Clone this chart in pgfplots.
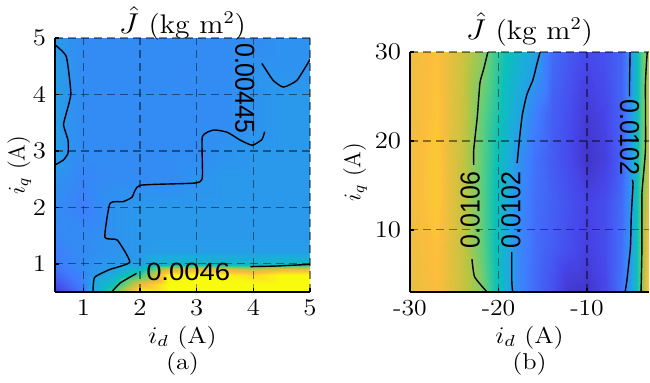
\documentclass[border=0pt]{standalone}
\usepackage{pgfplots}
\pgfplotsset{compat=1.18}
\usepackage{fontspec}
\newfontfamily\lblfont{Liberation Sans}
\tikzset{clbl/.style={font=\lblfont\fontsize{12.5}{13}\selectfont, inner sep=0pt, xscale=1.1}}
\pgfplotsset{
  colormap={parula}{rgb255(0pt)=(62,38,168) rgb255(7pt)=(71,70,234) rgb255(15pt)=(63,124,254) rgb255(19pt)=(44,149,238) rgb255(23pt)=(29,170,222) rgb255(31pt)=(10,192,185) rgb255(39pt)=(91,206,126) rgb255(47pt)=(185,197,66) rgb255(55pt)=(252,189,61) rgb255(63pt)=(249,251,14)},
  every axis title shift=0pt,
  mystyle/.style={
    scale only axis, enlargelimits=false, axis on top,
    axis x line*=bottom, axis y line*=left,
    axis line style={-, line width=1.3bp, black},
    grid=major,
    major grid style={black, opacity=0.45, line width=0.7bp, dash pattern=on 4bp off 2.5bp},
    tick align=inside, major tick length=2bp, tick style={black, line width=0.8bp},
    tick label style={xscale=1.12},
    xlabel style={at={(axis description cs:0.5,0)}, anchor=north, yshift=-13bp, align=center, xscale=1.15},
    title style={at={(axis description cs:0.5,1)}, anchor=south, inner sep=0pt, font=\fontsize{13.5}{15}\selectfont, xscale=1.1},
  },
  cline/.style={black, line width=0.7bp, smooth, tension=0.3},
}
\begin{document}
\fontsize{11.5}{12.5}\selectfont
\begin{tikzpicture}
\begin{axis}[mystyle, at={(0,0)}, anchor=south west,
  width=127.5bp, height=127bp,
  xmin=0.5, xmax=5, ymin=0.5, ymax=5,
  xtick={1,2,3,4,5}, ytick={1,2,3,4,5},
  point meta min=0.00429, point meta max=0.00490,
  colormap name=parula,
  title={$\hat{J}$ (kg m$^2$)}, title style={yshift=-1.5bp},
  xlabel={$i_d$ (A)\\[0.5bp](a)},
  ylabel={$i_q$ (A)}, ylabel style={at={(axis description cs:-0.14,0.5)}, anchor=center},
]
\addplot[surf, shader=interp, mesh/cols=11, point meta=explicit] table[x index=0, y index=1, meta index=2] {
0.5 0.5 0.00433
0.75 0.5 0.00438
1 0.5 0.00443
1.5 0.5 0.00465
2 0.5 0.00490
2.5 0.5 0.00495
3 0.5 0.00495
3.5 0.5 0.00495
4 0.5 0.00490
4.5 0.5 0.00495
5 0.5 0.00495
0.5 0.65 0.00437
0.75 0.65 0.00441
1 0.65 0.00444
1.5 0.65 0.00458
2 0.65 0.00480
2.5 0.65 0.00495
3 0.65 0.00495
3.5 0.65 0.00495
4 0.65 0.00490
4.5 0.65 0.00495
5 0.65 0.00495
0.5 0.8 0.00440
0.75 0.8 0.00443
1 0.8 0.00445
1.5 0.8 0.00452
2 0.8 0.00464
2.5 0.8 0.00489
3 0.8 0.00490
3.5 0.8 0.00489
4 0.8 0.00486
4.5 0.8 0.00490
5 0.8 0.00490
0.5 0.9 0.00442
0.75 0.9 0.00444
1 0.9 0.00446
1.5 0.9 0.00449
2 0.9 0.00456
2.5 0.9 0.00478
3 0.9 0.00480
3.5 0.9 0.00479
4 0.9 0.00476
4.5 0.9 0.00480
5 0.9 0.00480
0.5 1 0.00443
0.75 1 0.00445
1 1 0.00446
1.5 1 0.00448
2 1 0.00449
2.5 1 0.00455
3 1 0.00456
3.5 1 0.00456
4 1 0.00455
4.5 1 0.00457
5 1 0.00457
0.5 1.2 0.00444
0.75 1.2 0.00445
1 1.2 0.00446
1.5 1.2 0.00447
2 1.2 0.00448
2.5 1.2 0.00449
3 1.2 0.00449
3.5 1.2 0.00449
4 1.2 0.00449
4.5 1.2 0.00449
5 1.2 0.00449
0.5 1.5 0.00445
0.75 1.5 0.00446
1 1.5 0.00446
1.5 1.5 0.00447
2 1.5 0.00448
2.5 1.5 0.00448
3 1.5 0.00448
3.5 1.5 0.00448
4 1.5 0.00448
4.5 1.5 0.00448
5 1.5 0.00448
0.5 2 0.00446
0.75 2 0.00445
1 2 0.00444
1.5 2 0.00447
2 2 0.00448
2.5 2 0.00448
3 2 0.00448
3.5 2 0.00448
4 2 0.00448
4.5 2 0.00448
5 2 0.00448
0.5 2.5 0.00447
0.75 2.5 0.00446
1 2.5 0.00445
1.5 2.5 0.00446
2 2.5 0.00446
2.5 2.5 0.00446
3 2.5 0.00447
3.5 2.5 0.00448
4 2.5 0.00448
4.5 2.5 0.00448
5 2.5 0.00448
0.5 3 0.00449
0.75 3 0.00447
1 3 0.00446
1.5 3 0.00446
2 3 0.00446
2.5 3 0.00446
3 3 0.00446
3.5 3 0.00447
4 3 0.00448
4.5 3 0.00448
5 3 0.00448
0.5 3.5 0.00449
0.75 3.5 0.00447
1 3.5 0.00446
1.5 3.5 0.00446
2 3.5 0.00446
2.5 3.5 0.00446
3 3.5 0.00446
3.5 3.5 0.00446
4 3.5 0.00447
4.5 3.5 0.00448
5 3.5 0.00448
0.5 4 0.00449
0.75 4 0.00447
1 4 0.00446
1.5 4 0.00446
2 4 0.00446
2.5 4 0.00446
3 4 0.00446
3.5 4 0.00446
4 4 0.00447
4.5 4 0.00448
5 4 0.00448
0.5 4.5 0.00449
0.75 4.5 0.00447
1 4.5 0.00446
1.5 4.5 0.00446
2 4.5 0.00446
2.5 4.5 0.00446
3 4.5 0.00446
3.5 4.5 0.00446
4 4.5 0.00447
4.5 4.5 0.00447
5 4.5 0.00447
0.5 5 0.00448
0.75 5 0.00447
1 5 0.00446
1.5 5 0.00446
2 5 0.00446
2.5 5 0.00446
3 5 0.00446
3.5 5 0.00446
4 5 0.00446
4.5 5 0.00447
5 5 0.00447
};
% contour lines (a)
\addplot[cline] coordinates {(1.17,0.5) (1.2,0.76) (1.47,0.9) (1.82,1.03) (1.6,1.42) (1.38,1.47) (1.47,2.07) (1.7,2.1) (1.86,2.18) (2.0,2.39) (2.97,2.43) (3.1,2.53) (3.1,3.25) (3.3,3.37) (3.54,3.33) (3.77,3.19) (3.98,3.1) (4.15,3.2) (4.2,3.34)};
\addplot[cline] coordinates {(4.15,4.55) (4.35,4.25) (4.53,4.13) (4.77,4.25) (5,4.62)};
\addplot[cline] coordinates {(0.5,4.88) (0.7,4.67) (0.78,4.02) (0.7,3.67) (0.65,3.46) (0.73,3.19) (0.73,2.96) (0.65,2.84) (0.5,2.75)};
\addplot[cline] coordinates {(1.5,0.5) (1.65,0.66) (1.94,0.83)};
\addplot[cline] coordinates {(3.95,0.95) (4.4,0.96) (5,0.99)};
\node[clbl, rotate=-90] at (axis cs:3.85,4.11) {0.00445};
\node[clbl] at (axis cs:2.85,0.85) {0.0046};
\end{axis}

\begin{axis}[mystyle, at={(177.5bp,0)}, anchor=south west,
  width=119.5bp, height=120bp,
  xmin=-30, xmax=-3, ymin=3, ymax=30,
  xtick={-30,-20,-10}, xticklabels={-30,-20,-10}, ytick={10,20,30},
  point meta min=0.00990, point meta max=0.01100,
  colormap name=parula,
  title={$\hat{J}$ (kg m$^2$)}, title style={yshift=2.5bp},
  xlabel={$i_d$ (A)\\[0.5bp](b)},
  ylabel={$i_q$ (A)}, ylabel style={at={(axis description cs:-0.23,0.5)}, anchor=center},
]
\addplot[surf, shader=interp, mesh/cols=15, point meta=explicit] table[x index=0, y index=1, meta index=2] {
-30 3 0.01082
-27 3 0.01086
-24 3 0.01075
-22 3 0.01064
-20 3 0.01042
-18 3 0.01021
-16 3 0.01012
-14 3 0.01005
-12 3 0.00997
-10 3 0.00996
-8 3 0.01002
-6 3 0.01014
-5 3 0.01026
-4 3 0.01056
-3 3 0.01092
-30 8 0.01083
-27 8 0.01087
-24 8 0.01074
-22 8 0.01060
-20 8 0.01040
-18 8 0.01021
-16 8 0.01013
-14 8 0.01008
-12 8 0.01004
-10 8 0.01000
-8 8 0.01004
-6 8 0.01013
-5 8 0.01025
-4 8 0.01056
-3 8 0.01090
-30 13 0.01084
-27 13 0.01089
-24 13 0.01074
-22 13 0.01059
-20 13 0.01040
-18 13 0.01022
-16 13 0.01013
-14 13 0.01009
-12 13 0.01005
-10 13 0.01001
-8 13 0.01004
-6 13 0.01012
-5 13 0.01025
-4 13 0.01055
-3 13 0.01082
-30 18 0.01084
-27 18 0.01089
-24 18 0.01074
-22 18 0.01059
-20 18 0.01042
-18 18 0.01024
-16 18 0.01014
-14 18 0.01008
-12 18 0.01003
-10 18 0.00996
-8 18 0.01000
-6 18 0.01010
-5 18 0.01025
-4 18 0.01053
-3 18 0.01076
-30 23 0.01083
-27 23 0.01088
-24 23 0.01075
-22 23 0.01060
-20 23 0.01046
-18 23 0.01030
-16 23 0.01018
-14 23 0.01009
-12 23 0.01004
-10 23 0.00998
-8 23 0.01002
-6 23 0.01010
-5 23 0.01023
-4 23 0.01052
-3 23 0.01074
-30 30 0.01083
-27 30 0.01087
-24 30 0.01076
-22 30 0.01066
-20 30 0.01050
-18 30 0.01038
-16 30 0.01028
-14 30 0.01012
-12 30 0.01007
-10 30 0.01003
-8 30 0.01005
-6 30 0.01010
-5 30 0.01023
-4 30 0.01052
-3 30 0.01072
};
% contour lines (b)
\addplot[cline] coordinates {(-21.2,30) (-21.7,28) (-22.1,26.5) (-22.4,22.7) (-22.8,19) (-22.8,17.3)};
\addplot[cline] coordinates {(-23.0,6.7) (-22.7,4.7) (-21.3,3)};
\addplot[cline] coordinates {(-15.3,30) (-15.7,28.5) (-16.1,26.9) (-16.8,25.2) (-17.3,23) (-17.6,20.5) (-17.9,17.5)};
\addplot[cline] coordinates {(-18.5,7.5) (-18.5,4.2) (-18.4,3)};
\addplot[cline] coordinates {(-5.14,30) (-5.2,26.5) (-5.2,25)};
\addplot[cline] coordinates {(-4.9,15.6) (-4.8,15.2) (-5.0,11.6) (-5.1,8) (-5.5,4.3) (-5.7,3)};
\addplot[cline] coordinates {(-3.2,30) (-3.4,26.5) (-3.4,19) (-3.8,14) (-3.8,8) (-3.9,3)};
\node[clbl, rotate=90] at (axis cs:-23.2,12.2) {0.0106};
\node[clbl, rotate=90] at (axis cs:-18.6,12.2) {0.0102};
\node[clbl, rotate=-90] at (axis cs:-5.2,20.4) {0.0102};
\end{axis}
\pgfresetboundingbox
\path[use as bounding box] (-27.5bp,-45.5bp) rectangle (297.5bp,146bp);
\end{tikzpicture}
\end{document}
